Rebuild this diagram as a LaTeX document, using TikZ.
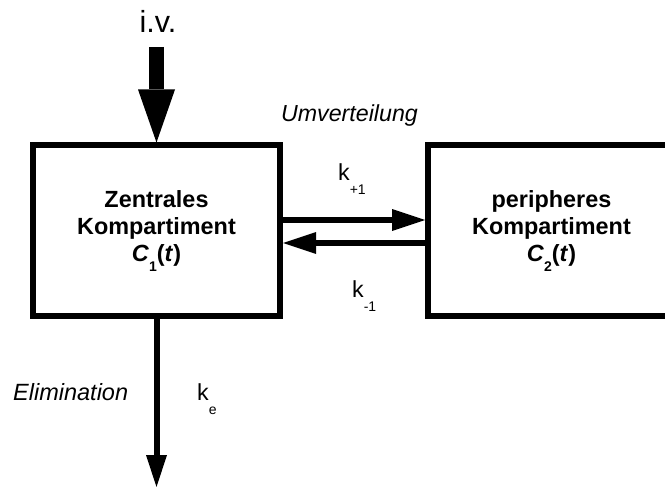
\documentclass[tikz,border=0pt]{standalone}
\usepackage{fontspec}
\setmainfont{Liberation Sans}
\usetikzlibrary{arrows.meta,calc}

% lowered small index, e.g. for rate constants and concentrations
\newcommand{\lowidx}[2][-0.62em]{\raisebox{#1}{\fontsize{14}{14}\selectfont #2}}

\begin{document}
\begin{tikzpicture}[x=1pt,y=-1pt,
  box/.style={draw, line width=6pt, minimum width=247pt, minimum height=170.5pt,
    align=center, inner sep=0pt, font=\fontsize{23.4}{27}\selectfont\bfseries},
  lbl/.style={anchor=base, inner sep=0pt, font=\fontsize{23.2}{23}\selectfont},
  lblw/.style={lbl, anchor=base west},
  flow/.style={line width=6pt, -{Triangle[length=33pt,width=22pt,line width=0pt]}},
  elim/.style={line width=6pt, -{Triangle[length=32pt,width=21pt,line width=0pt]}},
  infusion/.style={line width=15pt, -{Triangle[length=53pt,width=37pt,line width=0pt]}}
]
\useasboundingbox (0,0) rectangle (665,487);

% the two compartments (the peripheral one runs off the right edge)
\begin{scope}
  \clip (0,0) rectangle (665,487);
  \node[box] (c1) at (156.5,230.75)
    {Zentrales\\Kompartiment\\\textit{C}\lowidx[-0.42em]{1}(\textit{t})};
  \node[box] (c2) at (551.5,230.75)
    {peripheres\\Kompartiment\\\textit{C}\lowidx[-0.42em]{2}(\textit{t})};
\end{scope}

% labels
\node[lbl, font=\fontsize{30.5}{30}\selectfont] (iv) at (158,33) {i.v.};
\node[lbl, font=\fontsize{23.2}{23}\selectfont\itshape] (umv) at (349.5,122) {Umverteilung};
\node[lblw] (kp) at (338,180) {k\lowidx{+1}};
\node[lblw] (km) at (352,297) {k\lowidx{-1}};
\node[lblw, font=\fontsize{23.5}{23}\selectfont\itshape] (el) at (13,400) {Elimination};
\node[lblw] (ke) at (197,400) {k\lowidx{e}};

% infusion into the central compartment
\coordinate (ivstart) at ($(c1.north)+(0,-95.5)$);
\draw[infusion] (ivstart) -- (c1.north);

% exchange between the compartments
\draw[flow] ([yshift=10.75pt]c1.east) -- ([yshift=10.75pt]c2.west);
\draw[flow] ([yshift=-12.25pt]c2.west) -- ([yshift=-12.25pt]c1.east);

% elimination out of the central compartment
\coordinate (out) at (156.5,487);
\draw[elim] (c1.south) -- (out);
\end{tikzpicture}
\end{document}
